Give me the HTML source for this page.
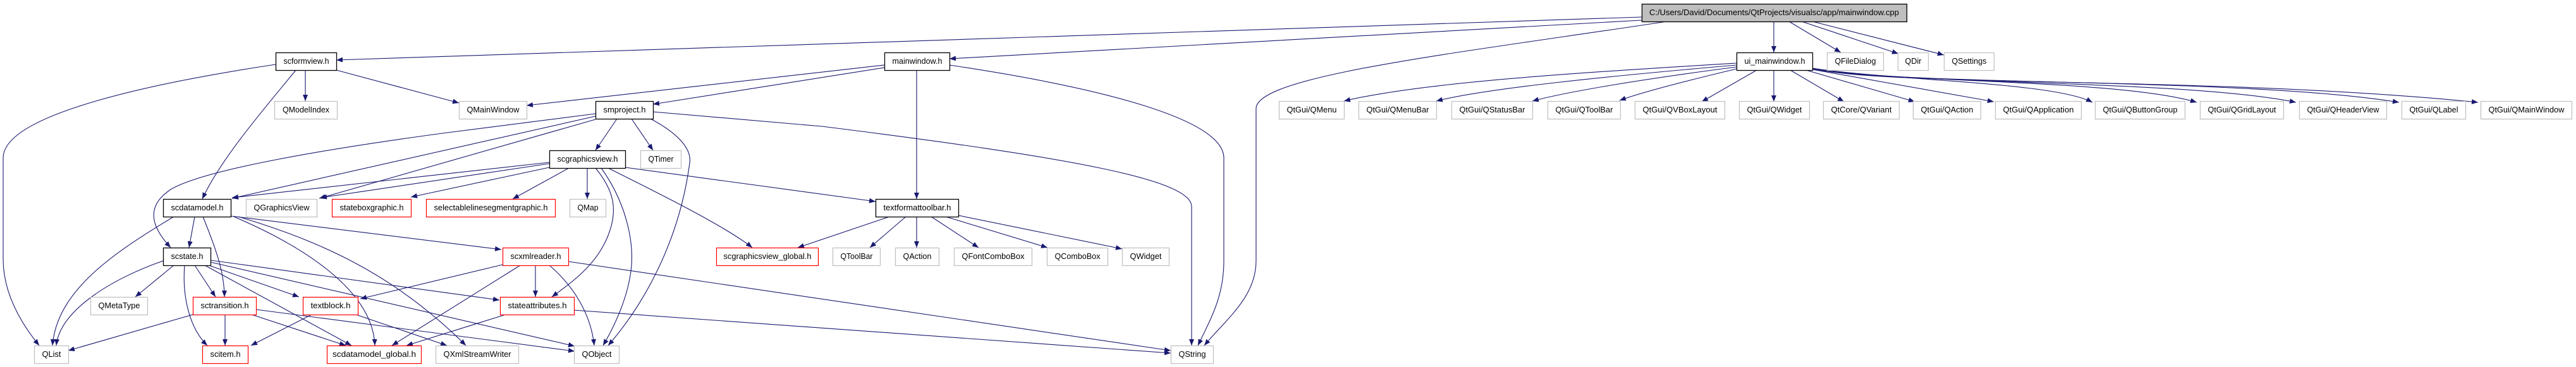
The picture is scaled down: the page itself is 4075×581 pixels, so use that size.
<!DOCTYPE html>
<html><head><meta charset="utf-8"><style>
html,body{margin:0;padding:0;background:#fff;}
svg{display:block;}
text{font-family:"Liberation Sans",Arial,sans-serif;font-size:13px;fill:#000;}
.e{fill:none;stroke:#191970;stroke-width:1.1;marker-end:url(#a);}
.b{fill:#fff;stroke:#000;stroke-width:1.3;}
.g{fill:#fff;stroke:#bfbfbf;stroke-width:1.2;}
.r{fill:#fff;stroke:#ff0000;stroke-width:1.2;}
</style></head><body>
<svg width="4075" height="581" viewBox="0 0 4075 581" xmlns="http://www.w3.org/2000/svg">
<defs><marker id="a" viewBox="0 0 10 8" refX="10" refY="4" markerWidth="10" markerHeight="8" markerUnits="userSpaceOnUse" orient="auto"><path d="M0,0 L10,4 L0,8 z" fill="#191970"/></marker></defs>
<rect width="4075" height="581" fill="#fff"/>
<g>
<path class="e" d="M2597,27 L532,95"/>
<path class="e" d="M2597,32 L1502,93"/>
<path class="e" d="M2637,34 C2300,85 1987,120 1987,172 L1987,413 C1987,470 1940,505 1905,547"/>
<path class="e" d="M2806,34 L2806,83"/>
<path class="e" d="M2830,34 L2912,83"/>
<path class="e" d="M2850,34 L3003,85"/>
<path class="e" d="M2867,34 L3075,87"/>
<path class="e" d="M483,111 L483,160"/>
<path class="e" d="M532,111 L726,163"/>
<path class="e" d="M436,102 C250,130 5,180 5,250 L5,410 C5,470 40,520 62,547"/>
<path class="e" d="M468,111 C420,170 350,250 320,315"/>
<path class="e" d="M1450,111 L1450,315"/>
<path class="e" d="M1502,103 C1750,140 1936,190 1936,250 L1936,413 C1936,470 1915,505 1895,547"/>
<path class="e" d="M1399,103 L833,167"/>
<path class="e" d="M1399,107 L1033,165"/>
<path class="e" d="M976,188 L942,238"/>
<path class="e" d="M999,188 L1033,238"/>
<path class="e" d="M1029,188 C1080,215 1094,240 1091,258 C1075,380 1020,480 962,547"/>
<path class="e" d="M1033,177 L1300,200 C1700,250 1885,285 1885,327 L1885,547"/>
<path class="e" d="M942,180 L700,211 C500,238 320,270 270,300 C225,330 245,365 270,392"/>
<path class="e" d="M942,184 L367,314"/>
<path class="e" d="M942,189 L505,314"/>
<path class="e" d="M869,257 L367,313"/>
<path class="e" d="M869,259 L507,313"/>
<path class="e" d="M869,265 L650,312"/>
<path class="e" d="M900,266 L811,315"/>
<path class="e" d="M929,266 L929,315"/>
<path class="e" d="M942,266 C970,300 978,330 963,370 C945,420 900,450 873,470"/>
<path class="e" d="M951,266 C990,320 1002,380 999,420 C995,470 970,520 954,547"/>
<path class="e" d="M962,266 C1050,310 1150,360 1190,392"/>
<path class="e" d="M989,265 L1385,319"/>
<path class="e" d="M1407,343 L1262,392"/>
<path class="e" d="M1433,343 L1376,392"/>
<path class="e" d="M1450,343 L1450,392"/>
<path class="e" d="M1473,343 L1548,392"/>
<path class="e" d="M1496,343 L1657,392"/>
<path class="e" d="M1516,341 L1775,394"/>
<path class="e" d="M308,343 L299,392"/>
<path class="e" d="M275,343 C180,400 90,460 83,547"/>
<path class="e" d="M321,343 C340,390 355,430 355,470"/>
<path class="e" d="M365,342 L793,395"/>
<path class="e" d="M370,343 C480,390 590,460 593,547"/>
<path class="e" d="M377,343 C500,380 620,430 737,547"/>
<path class="e" d="M258,413 C180,440 95,490 89,547"/>
<path class="e" d="M275,420 L214,470"/>
<path class="e" d="M292,420 C288,470 300,520 328,547"/>
<path class="e" d="M308,420 L341,470"/>
<path class="e" d="M324,420 L556,547"/>
<path class="e" d="M333,421 L473,470"/>
<path class="e" d="M333,412 L790,475"/>
<path class="e" d="M333,415 L909,548"/>
<path class="e" d="M305,498 L108,555"/>
<path class="e" d="M356,498 L356,547"/>
<path class="e" d="M398,498 L547,547"/>
<path class="e" d="M405,490 L909,556"/>
<path class="e" d="M493,498 L397,547"/>
<path class="e" d="M563,498 L707,547"/>
<path class="e" d="M795,419 L570,473"/>
<path class="e" d="M847,420 L847,470"/>
<path class="e" d="M823,420 L620,547"/>
<path class="e" d="M869,420 C910,455 935,500 940,547"/>
<path class="e" d="M899,414 L1852,555"/>
<path class="e" d="M803,497 L643,547"/>
<path class="e" d="M908,491 L1852,559"/>
<path class="e" d="M2747,100 C2500,115 2250,130 2126,160"/>
<path class="e" d="M2747,103 C2550,120 2350,140 2272,160"/>
<path class="e" d="M2747,106 C2600,125 2480,145 2424,160"/>
<path class="e" d="M2747,109 C2680,125 2600,145 2562,159"/>
<path class="e" d="M2779,111 L2692,161"/>
<path class="e" d="M2806,111 L2806,161"/>
<path class="e" d="M2832,111 L2917,161"/>
<path class="e" d="M2857,111 L3029,161"/>
<path class="e" d="M2867,110 L3154,161"/>
<path class="e" d="M2867,108 C3000,128 3250,130 3310,162"/>
<path class="e" d="M2867,108 C3000,132 3350,125 3475,162"/>
<path class="e" d="M2867,108 C3000,135 3450,125 3632,162"/>
<path class="e" d="M2867,108 C3000,137 3550,122 3795,162"/>
<path class="e" d="M2867,109 C3000,138 3500,120 3920,162"/>
</g>
<g>
<rect x="2597.5" y="6.5" width="419" height="28" fill="#bfbfbf" stroke="#000" stroke-width="1.3"/>
<text x="2806.5" y="24" text-anchor="middle" textLength="395" lengthAdjust="spacingAndGlyphs">C:/Users/David/Documents/QtProjects/visualsc/app/mainwindow.cpp</text>

<rect class="b" x="436.5" y="83.5" width="96" height="28"/><text x="484.5" y="101" text-anchor="middle" textLength="72" lengthAdjust="spacingAndGlyphs">scformview.h</text>
<rect class="b" x="1399.5" y="83.5" width="103" height="28"/><text x="1451" y="101" text-anchor="middle" textLength="79" lengthAdjust="spacingAndGlyphs">mainwindow.h</text>
<rect class="b" x="2747.5" y="83.5" width="120" height="28"/><text x="2807.5" y="101" text-anchor="middle" textLength="96" lengthAdjust="spacingAndGlyphs">ui_mainwindow.h</text>
<rect class="g" x="2890.5" y="83.5" width="89" height="28"/><text x="2935" y="101" text-anchor="middle" textLength="65" lengthAdjust="spacingAndGlyphs">QFileDialog</text>
<rect class="g" x="3002.5" y="83.5" width="48" height="28"/><text x="3026.5" y="101" text-anchor="middle" textLength="26" lengthAdjust="spacingAndGlyphs">QDir</text>
<rect class="g" x="3075.5" y="83.5" width="79" height="28"/><text x="3115" y="101" text-anchor="middle" textLength="55" lengthAdjust="spacingAndGlyphs">QSettings</text>

<rect class="g" x="434.5" y="160.5" width="99" height="28"/><text x="484" y="178" text-anchor="middle" textLength="74" lengthAdjust="spacingAndGlyphs">QModelIndex</text>
<rect class="g" x="726.5" y="160.5" width="107" height="28"/><text x="780" y="178" text-anchor="middle" textLength="83" lengthAdjust="spacingAndGlyphs">QMainWindow</text>
<rect class="b" x="942.5" y="160.5" width="91" height="28"/><text x="988" y="178" text-anchor="middle" textLength="67" lengthAdjust="spacingAndGlyphs">smproject.h</text>
<rect class="g" x="2023.5" y="160.5" width="103" height="28"/><text x="2075" y="178" text-anchor="middle" textLength="79" lengthAdjust="spacingAndGlyphs">QtGui/QMenu</text>
<rect class="g" x="2149.5" y="160.5" width="123" height="28"/><text x="2211" y="178" text-anchor="middle" textLength="99" lengthAdjust="spacingAndGlyphs">QtGui/QMenuBar</text>
<rect class="g" x="2296.5" y="160.5" width="128" height="28"/><text x="2360.5" y="178" text-anchor="middle" textLength="104" lengthAdjust="spacingAndGlyphs">QtGui/QStatusBar</text>
<rect class="g" x="2448.5" y="160.5" width="115" height="28"/><text x="2506" y="178" text-anchor="middle" textLength="91" lengthAdjust="spacingAndGlyphs">QtGui/QToolBar</text>
<rect class="g" x="2586.5" y="160.5" width="142" height="28"/><text x="2657.5" y="178" text-anchor="middle" textLength="118" lengthAdjust="spacingAndGlyphs">QtGui/QVBoxLayout</text>
<rect class="g" x="2751.5" y="160.5" width="111" height="28"/><text x="2807" y="178" text-anchor="middle" textLength="87" lengthAdjust="spacingAndGlyphs">QtGui/QWidget</text>
<rect class="g" x="2884.5" y="160.5" width="120" height="28"/><text x="2944.5" y="178" text-anchor="middle" textLength="96" lengthAdjust="spacingAndGlyphs">QtCore/QVariant</text>
<rect class="g" x="3026.5" y="160.5" width="107" height="28"/><text x="3080" y="178" text-anchor="middle" textLength="83" lengthAdjust="spacingAndGlyphs">QtGui/QAction</text>
<rect class="g" x="3156.5" y="160.5" width="136" height="28"/><text x="3224.5" y="178" text-anchor="middle" textLength="112" lengthAdjust="spacingAndGlyphs">QtGui/QApplication</text>
<rect class="g" x="3314.5" y="160.5" width="142" height="28"/><text x="3385.5" y="178" text-anchor="middle" textLength="118" lengthAdjust="spacingAndGlyphs">QtGui/QButtonGroup</text>
<rect class="g" x="3480.5" y="160.5" width="132" height="28"/><text x="3546.5" y="178" text-anchor="middle" textLength="108" lengthAdjust="spacingAndGlyphs">QtGui/QGridLayout</text>
<rect class="g" x="3637.5" y="160.5" width="138" height="28"/><text x="3706.5" y="178" text-anchor="middle" textLength="114" lengthAdjust="spacingAndGlyphs">QtGui/QHeaderView</text>
<rect class="g" x="3799.5" y="160.5" width="101" height="28"/><text x="3850" y="178" text-anchor="middle" textLength="77" lengthAdjust="spacingAndGlyphs">QtGui/QLabel</text>
<rect class="g" x="3924.5" y="160.5" width="144" height="28"/><text x="3996.5" y="178" text-anchor="middle" textLength="120" lengthAdjust="spacingAndGlyphs">QtGui/QMainWindow</text>

<rect class="b" x="869.5" y="238.5" width="120" height="28"/><text x="929.5" y="256" text-anchor="middle" textLength="96" lengthAdjust="spacingAndGlyphs">scgraphicsview.h</text>
<rect class="g" x="1013.5" y="238.5" width="64" height="28"/><text x="1045.5" y="256" text-anchor="middle" textLength="40" lengthAdjust="spacingAndGlyphs">QTimer</text>

<rect class="b" x="258.5" y="315.5" width="107" height="28"/><text x="312" y="333" text-anchor="middle" textLength="83" lengthAdjust="spacingAndGlyphs">scdatamodel.h</text>
<rect class="g" x="389.5" y="315.5" width="112" height="28"/><text x="445.5" y="333" text-anchor="middle" textLength="88" lengthAdjust="spacingAndGlyphs">QGraphicsView</text>
<rect class="r" x="525.5" y="315.5" width="125" height="28"/><text x="588" y="333" text-anchor="middle" textLength="101" lengthAdjust="spacingAndGlyphs">stateboxgraphic.h</text>
<rect class="r" x="674.5" y="315.5" width="204" height="28"/><text x="776.5" y="333" text-anchor="middle" textLength="180" lengthAdjust="spacingAndGlyphs">selectablelinesegmentgraphic.h</text>
<rect class="g" x="901.5" y="315.5" width="57" height="28"/><text x="930" y="333" text-anchor="middle" textLength="33" lengthAdjust="spacingAndGlyphs">QMap</text>
<rect class="b" x="1385.5" y="315.5" width="131" height="28"/><text x="1451" y="333" text-anchor="middle" textLength="107" lengthAdjust="spacingAndGlyphs">textformattoolbar.h</text>

<rect class="b" x="258.5" y="392.5" width="75" height="28"/><text x="296" y="410" text-anchor="middle" textLength="51" lengthAdjust="spacingAndGlyphs">scstate.h</text>
<rect class="r" x="795.5" y="392.5" width="104" height="28"/><text x="847.5" y="410" text-anchor="middle" textLength="80" lengthAdjust="spacingAndGlyphs">scxmlreader.h</text>
<rect class="r" x="1133.5" y="392.5" width="161" height="28"/><text x="1214" y="410" text-anchor="middle" textLength="139" lengthAdjust="spacingAndGlyphs">scgraphicsview_global.h</text>
<rect class="g" x="1317.5" y="392.5" width="75" height="28"/><text x="1355" y="410" text-anchor="middle" textLength="51" lengthAdjust="spacingAndGlyphs">QToolBar</text>
<rect class="g" x="1416.5" y="392.5" width="69" height="28"/><text x="1451" y="410" text-anchor="middle" textLength="45" lengthAdjust="spacingAndGlyphs">QAction</text>
<rect class="g" x="1509.5" y="392.5" width="123" height="28"/><text x="1571" y="410" text-anchor="middle" textLength="99" lengthAdjust="spacingAndGlyphs">QFontComboBox</text>
<rect class="g" x="1656.5" y="392.5" width="96" height="28"/><text x="1704.5" y="410" text-anchor="middle" textLength="72" lengthAdjust="spacingAndGlyphs">QComboBox</text>
<rect class="g" x="1775.5" y="392.5" width="74" height="28"/><text x="1812.5" y="410" text-anchor="middle" textLength="50" lengthAdjust="spacingAndGlyphs">QWidget</text>

<rect class="g" x="143.5" y="470.5" width="90" height="28"/><text x="188.5" y="488" text-anchor="middle" textLength="66" lengthAdjust="spacingAndGlyphs">QMetaType</text>
<rect class="r" x="305.5" y="470.5" width="100" height="28"/><text x="355.5" y="488" text-anchor="middle" textLength="76" lengthAdjust="spacingAndGlyphs">sctransition.h</text>
<rect class="r" x="479.5" y="470.5" width="87" height="28"/><text x="523" y="488" text-anchor="middle" textLength="63" lengthAdjust="spacingAndGlyphs">textblock.h</text>
<rect class="r" x="791.5" y="470.5" width="117" height="28"/><text x="850" y="488" text-anchor="middle" textLength="93" lengthAdjust="spacingAndGlyphs">stateattributes.h</text>

<rect class="g" x="54.5" y="547.5" width="54" height="28"/><text x="81.5" y="565" text-anchor="middle" textLength="30" lengthAdjust="spacingAndGlyphs">QList</text>
<rect class="r" x="320.5" y="547.5" width="72" height="28"/><text x="356.5" y="565" text-anchor="middle" textLength="48" lengthAdjust="spacingAndGlyphs">scitem.h</text>
<rect class="r" x="517.5" y="547.5" width="149" height="28"/><text x="592" y="565" text-anchor="middle" textLength="132" lengthAdjust="spacingAndGlyphs">scdatamodel_global.h</text>
<rect class="g" x="689.5" y="547.5" width="131" height="28"/><text x="755" y="565" text-anchor="middle" textLength="107" lengthAdjust="spacingAndGlyphs">QXmlStreamWriter</text>
<rect class="g" x="908.5" y="547.5" width="71" height="28"/><text x="944" y="565" text-anchor="middle" textLength="47" lengthAdjust="spacingAndGlyphs">QObject</text>
<rect class="g" x="1852.5" y="547.5" width="67" height="28"/><text x="1886" y="565" text-anchor="middle" textLength="43" lengthAdjust="spacingAndGlyphs">QString</text>
</g>
</svg>
</body></html>
